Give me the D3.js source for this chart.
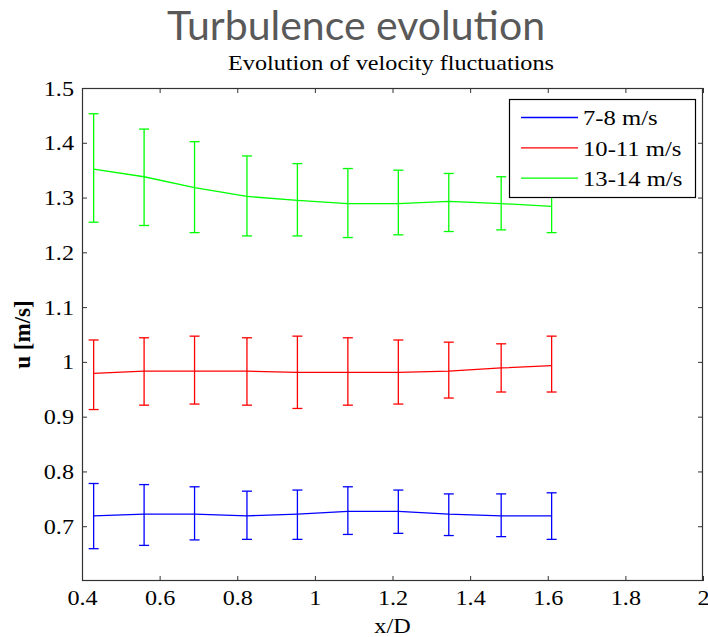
<!DOCTYPE html>
<html>
<head>
<meta charset="utf-8">
<script src="https://cdn.jsdelivr.net/npm/d3@7"></script>
<style>
  body { margin: 0; background: #fff; }
</style>
</head>
<body>
<div id="chart"></div>
<script>
const width = 708;
const height = 637;
const serif = "'Liberation Serif', 'Times New Roman', 'DejaVu Serif', serif";

// x/D positions of the measurements
const xD = [0.43, 0.56, 0.69, 0.825, 0.955, 1.085, 1.215, 1.345, 1.48, 1.61];

// mean velocity fluctuation and error bar ends per speed class
const slowMean  = [0.719, 0.722, 0.722, 0.719, 0.722, 0.727, 0.727, 0.722, 0.719, 0.719];
const slowUpper = [0.778, 0.776, 0.772, 0.764, 0.766, 0.772, 0.766, 0.759, 0.759, 0.761];
const slowLower = [0.659, 0.665, 0.675, 0.676, 0.676, 0.685, 0.687, 0.683, 0.681, 0.676];

const midMean  = [0.979, 0.983, 0.983, 0.983, 0.981, 0.981, 0.981, 0.983, 0.989, 0.993];
const midUpper = [1.040, 1.044, 1.047, 1.044, 1.047, 1.044, 1.040, 1.036, 1.033, 1.047];
const midLower = [0.913, 0.921, 0.923, 0.921, 0.915, 0.921, 0.923, 0.934, 0.945, 0.945];

const fastMean  = [1.352, 1.338, 1.318, 1.302, 1.295, 1.289, 1.289, 1.293, 1.289, 1.284];
const fastUpper = [1.453, 1.425, 1.402, 1.376, 1.362, 1.353, 1.350, 1.344, 1.338, 1.332];
const fastLower = [1.255, 1.249, 1.236, 1.230, 1.230, 1.227, 1.232, 1.238, 1.241, 1.236];

const seriesNames = ["7-8 m/s", "10-11 m/s", "13-14 m/s"];
const seriesColors = ["#0000ff", "#ff0000", "#00ff00"];

const xTicks = [0.4, 0.6, 0.8, 1, 1.2, 1.4, 1.6, 1.8, 2];
const yTicks = [0.7, 0.8, 0.9, 1, 1.1, 1.2, 1.3, 1.4, 1.5];

const series = [
  { mean: slowMean, upper: slowUpper, lower: slowLower },
  { mean: midMean, upper: midUpper, lower: midLower },
  { mean: fastMean, upper: fastUpper, lower: fastLower }
].map((s, i) => ({
  name: seriesNames[i],
  color: seriesColors[i],
  points: xD.map((x, j) => ({ x, y: s.mean[j], hi: s.upper[j], lo: s.lower[j] }))
}));

const plot = { left: 82, right: 703, top: 88, bottom: 581 };

const svg = d3.select("#chart")
  .append("svg")
  .attr("width", width)
  .attr("height", height);

const x = d3.scaleLinear().domain([0.4, 2]).range([plot.left, plot.right]);
const y = d3.scaleLinear().domain([0.6, 1.5]).range([plot.bottom, plot.top]);

// the figure in the slide is a bit stretched sideways, widen the serif text to match
function stretch(sel, k) {
  sel.each(function () {
    const w = this.getComputedTextLength();
    d3.select(this).attr("textLength", w * k).attr("lengthAdjust", "spacingAndGlyphs");
  });
}

// slide title
svg.append("text")
  .attr("x", 356)
  .attr("y", 40)
  .attr("text-anchor", "middle")
  .style("font-family", "Lato, 'Open Sans', sans-serif")
  .style("font-size", "41px")
  .attr("fill", "#595959")
  .text("Turbulence evolution");

// axes title
svg.append("text")
  .attr("x", 391)
  .attr("y", 70)
  .attr("text-anchor", "middle")
  .style("font-family", serif)
  .style("font-size", "22px")
  .attr("fill", "#000")
  .text("Evolution of velocity fluctuations")
  .call(stretch, 1.1);

const fmt = d3.format("~g");
const axisColor = "#333";

function styleAxis(g) {
  g.attr("font-family", null).attr("font-size", null);
  g.select(".domain").remove();
  g.selectAll(".tick line").attr("stroke", axisColor);
  g.selectAll(".tick text")
    .attr("fill", "#000")
    .style("font-family", serif)
    .style("font-size", "22px")
    .call(stretch, 1.1);
}

svg.append("g")
  .attr("transform", `translate(0,${plot.bottom})`)
  .call(d3.axisBottom(x).tickValues(xTicks).tickFormat(fmt).tickSizeInner(-5).tickSizeOuter(0).tickPadding(8))
  .call(styleAxis);

svg.append("g")
  .attr("transform", `translate(0,${plot.top})`)
  .call(d3.axisTop(x).tickValues(xTicks).tickFormat("").tickSizeInner(-5).tickSizeOuter(0))
  .call(styleAxis);

svg.append("g")
  .attr("transform", `translate(${plot.left},0)`)
  .call(d3.axisLeft(y).tickValues(yTicks).tickFormat(fmt).tickSizeInner(-5).tickSizeOuter(0).tickPadding(8))
  .call(styleAxis);

svg.append("g")
  .attr("transform", `translate(${plot.right},0)`)
  .call(d3.axisRight(y).tickValues(yTicks).tickFormat("").tickSizeInner(-5).tickSizeOuter(0))
  .call(styleAxis);

// box around the axes
svg.append("rect")
  .attr("x", plot.left + 0.5)
  .attr("y", plot.top + 0.5)
  .attr("width", plot.right - plot.left - 1)
  .attr("height", plot.bottom - plot.top - 1)
  .attr("fill", "none")
  .attr("stroke", axisColor)
  .attr("stroke-width", 1.2);

// axis labels
svg.append("text")
  .attr("x", (plot.left + plot.right) / 2)
  .attr("y", 633)
  .attr("text-anchor", "middle")
  .style("font-family", serif)
  .style("font-size", "22px")
  .text("x/D")
  .call(stretch, 1.1);

svg.append("text")
  .attr("transform", `translate(30,${(plot.top + plot.bottom) / 2}) rotate(-90)`)
  .attr("text-anchor", "middle")
  .style("font-family", serif)
  .style("font-size", "23px")
  .style("font-weight", "bold")
  .text("u [m/s]");

// lines with error bars
const line = d3.line().x(d => x(d.x)).y(d => y(d.y));
const capHalf = 5;

const groups = svg.append("g")
  .selectAll("g")
  .data(series)
  .join("g")
  .attr("stroke", d => d.color)
  .attr("fill", "none")
  .attr("stroke-width", 1.3);

groups.append("path").attr("d", d => line(d.points));

const bars = groups.selectAll("g.err")
  .data(d => d.points)
  .join("g")
  .attr("class", "err");

bars.append("line")
  .attr("x1", d => x(d.x)).attr("x2", d => x(d.x))
  .attr("y1", d => y(d.lo)).attr("y2", d => y(d.hi));
bars.append("line")
  .attr("x1", d => x(d.x) - capHalf).attr("x2", d => x(d.x) + capHalf)
  .attr("y1", d => y(d.hi)).attr("y2", d => y(d.hi));
bars.append("line")
  .attr("x1", d => x(d.x) - capHalf).attr("x2", d => x(d.x) + capHalf)
  .attr("y1", d => y(d.lo)).attr("y2", d => y(d.lo));

// legend
const legend = svg.append("g").attr("transform", "translate(509,99)");
legend.append("rect")
  .attr("x", 0.5).attr("y", 0.5)
  .attr("width", 186).attr("height", 98)
  .attr("fill", "#fff")
  .attr("stroke", "#000")
  .attr("stroke-width", 1.2);

const rows = legend.selectAll("g.row")
  .data(series)
  .join("g")
  .attr("class", "row")
  .attr("transform", (d, i) => `translate(0,${18.5 + i * 30.3})`);

rows.append("line")
  .attr("x1", 12).attr("x2", 69)
  .attr("stroke", d => d.color)
  .attr("stroke-width", 1.3);

rows.append("text")
  .attr("x", 74)
  .attr("dy", "0.35em")
  .style("font-family", serif)
  .style("font-size", "22px")
  .text(d => d.name)
  .call(stretch, 1.12);
</script>
</body>
</html>
